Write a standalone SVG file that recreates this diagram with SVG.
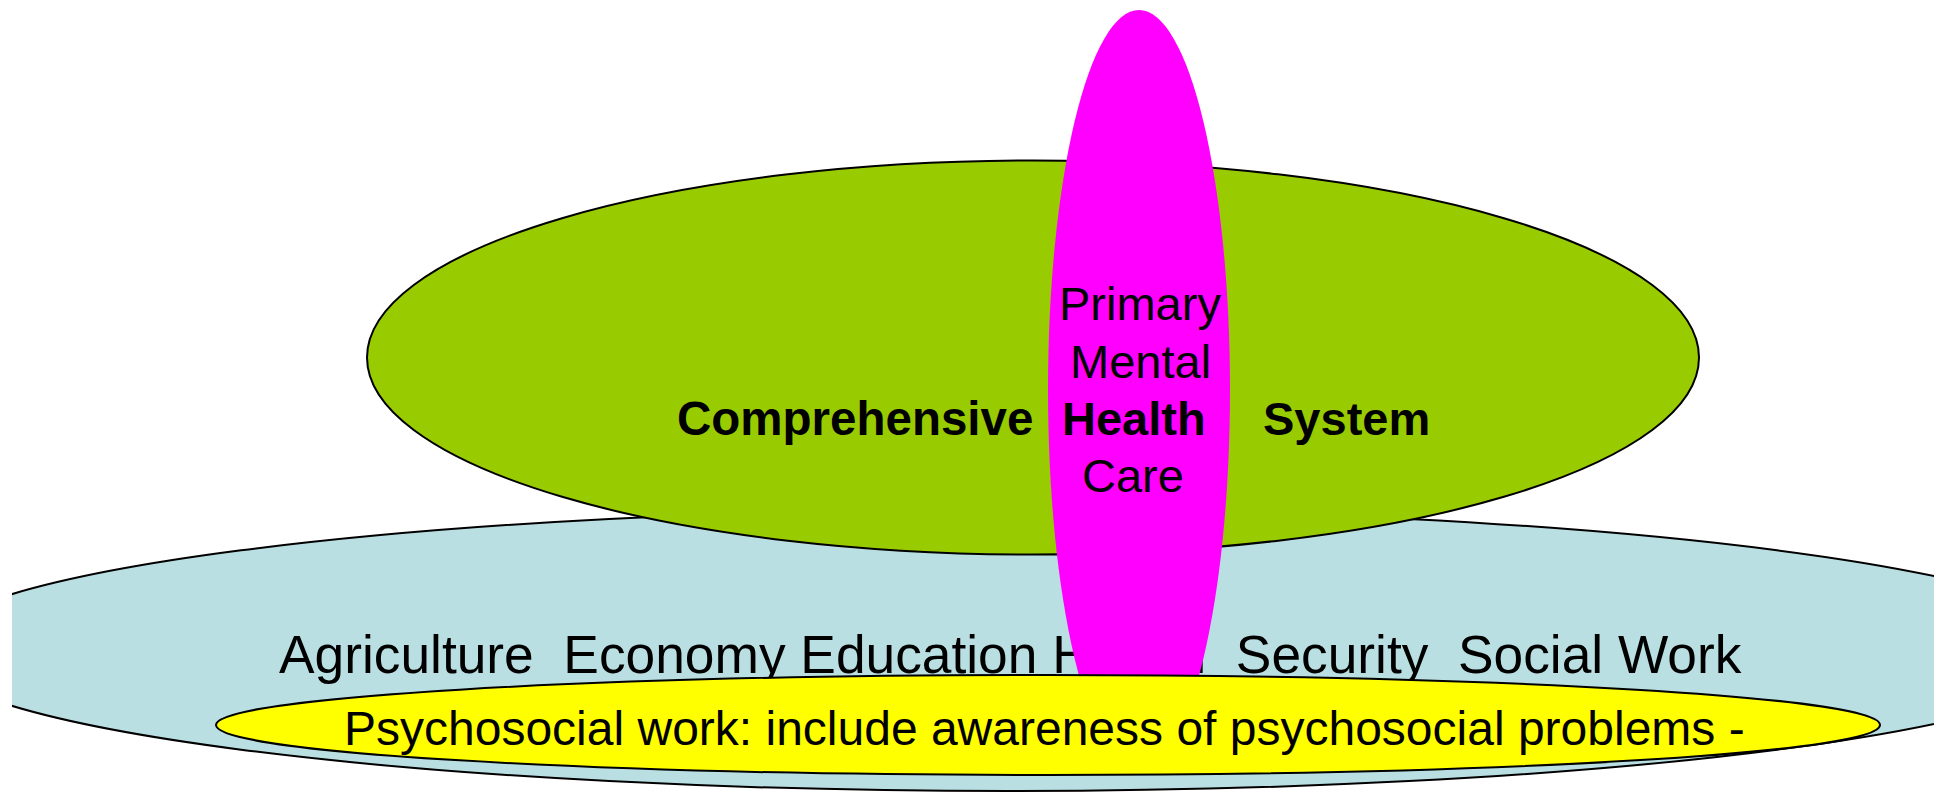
<svg xmlns="http://www.w3.org/2000/svg" width="1936" height="793" viewBox="0 0 1936 793">
<style>
.t{font-family:"Liberation Sans",Arial,sans-serif;fill:#000}
.b{font-weight:bold}
.s{stroke:#000;stroke-width:2}
</style>
<defs>
<clipPath id="clip"><rect x="12" y="0" width="1922" height="793"/></clipPath>
</defs>
<rect width="1936" height="793" fill="#fff"/>
<g id="sectors">
<ellipse cx="1009" cy="650" rx="1086" ry="141" fill="#B9DFE3" class="s" clip-path="url(#clip)"/>
</g>
<g id="comprehensive">
<ellipse cx="1033" cy="357.5" rx="666" ry="197" fill="#99CC00" class="s"/>
</g>
<g id="sectors-label">
<text class="t" x="279" y="673" font-size="53.3" xml:space="preserve">Agriculture  Economy Education Health  Security  Social Work</text>
</g>
<g id="primary">
<ellipse cx="1139" cy="390" rx="91" ry="380" fill="#FF00FF"/>
<text class="t" x="1059" y="320" font-size="47">Primary</text>
<text class="t" x="1070" y="377.5" font-size="47">Mental</text>
<text class="t" x="1082" y="492" font-size="47">Care</text>
</g>
<g id="comprehensive-label">
<text class="t b" x="677" y="435" font-size="47.5">Comprehensive</text>
<text class="t b" x="1062" y="435" font-size="47">Health</text>
<text class="t b" x="1263" y="435" font-size="47">System</text>
</g>
<g id="psychosocial">
<ellipse cx="1048" cy="725" rx="832" ry="50" fill="#FFFF00" class="s"/>
<text class="t" x="344" y="745" font-size="48">Psychosocial work: include awareness of psychosocial problems -</text>
</g>
<g id="connectors"></g>
</svg>
